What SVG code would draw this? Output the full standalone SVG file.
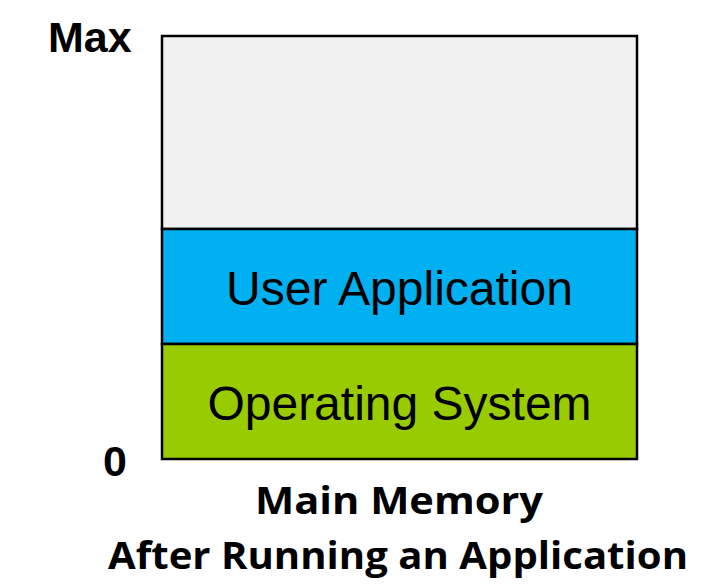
<svg xmlns="http://www.w3.org/2000/svg" width="714" height="584" viewBox="0 0 714 584">
<style>
.blk{stroke:#000;stroke-width:2.5}
.lbl{font-family:"Liberation Sans",Arial,sans-serif;font-size:48px;fill:#000;text-anchor:middle}
.axis{font-family:"Liberation Sans",Arial,sans-serif;font-weight:bold;font-size:43px;fill:#000}
.cap{font-family:"Open Sans","Liberation Sans",sans-serif;font-weight:bold;font-size:37px;fill:#000;text-anchor:middle}
</style>
<rect width="714" height="584" fill="#fff"/>
<g id="free"><rect class="blk" x="162" y="36" width="475" height="193" fill="#f1f1f1"/></g>
<g id="user-app"><rect class="blk" x="162" y="229" width="475" height="115" fill="#00b0f0"/><text class="lbl" x="399.5" y="305">User Application</text></g>
<g id="os"><rect class="blk" x="162" y="344" width="475" height="115" fill="#99cc00"/><text class="lbl" x="399.5" y="420">Operating System</text></g>
<g id="connectors"></g>
<text class="axis" x="48" y="52">Max</text>
<text class="axis" x="103" y="476">0</text>
<text class="cap" x="399" y="514" textLength="288" lengthAdjust="spacingAndGlyphs">Main Memory</text>
<text class="cap" x="398" y="569" textLength="580" lengthAdjust="spacingAndGlyphs">After Running an Application</text>
</svg>
